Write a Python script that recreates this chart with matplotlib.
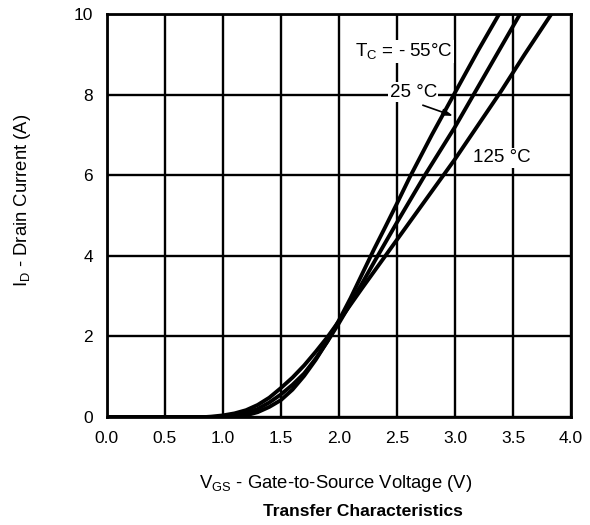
import matplotlib
matplotlib.use("Agg")
import matplotlib.pyplot as plt
import numpy as np

plt.rcParams["font.family"] = ["Liberation Sans", "DejaVu Sans"]
plt.rcParams["mathtext.fontset"] = "custom"
plt.rcParams["mathtext.rm"] = "Liberation Sans"

# Transfer characteristics
vgs_m55 = [0.0, 1.0, 1.1, 1.2, 1.3, 1.4, 1.5, 1.6, 1.7, 1.8, 1.9, 2.0, 2.1, 2.2, 2.3, 2.4, 2.5, 2.61, 2.8, 2.99, 3.2, 3.38]
id_m55 = [0.0, 0.0, 0.01, 0.04, 0.12, 0.25, 0.42, 0.68, 1.02, 1.42, 1.88, 2.4, 2.95, 3.55, 4.15, 4.72, 5.3, 5.95, 7.0, 8.0, 9.1, 10.0]

vgs_25 = [0.0, 0.95, 1.0, 1.1, 1.2, 1.3, 1.4, 1.5, 1.6, 1.7, 1.8, 1.9, 2.0, 2.1, 2.2, 2.32, 2.5, 2.74, 3.0, 3.13, 3.3, 3.56]
id_25 = [0.0, 0.0, 0.01, 0.04, 0.1, 0.2, 0.36, 0.56, 0.8, 1.08, 1.45, 1.87, 2.33, 2.82, 3.32, 3.93, 4.83, 6.0, 7.2, 7.85, 8.7, 10.0]

vgs_125 = [0.0, 0.85, 0.9, 1.0, 1.1, 1.2, 1.3, 1.4, 1.5, 1.6, 1.7, 1.8, 1.9, 2.0, 2.2, 2.4, 2.6, 2.8, 3.0, 3.2, 3.4, 3.6, 3.83]
id_125 = [0.0, 0.0, 0.01, 0.04, 0.09, 0.17, 0.3, 0.48, 0.72, 0.98, 1.28, 1.62, 1.98, 2.38, 3.2, 4.0, 4.8, 5.6, 6.4, 7.25, 8.1, 9.0, 10.0]

fig = plt.figure(figsize=(5.9, 5.25), dpi=100)
ax = fig.add_axes([0.181, 0.2057, 0.787, 0.7676])

for v, i in [(vgs_m55, id_m55), (vgs_25, id_25), (vgs_125, id_125)]:
    ax.plot(v, i, color="black", lw=2.8, zorder=3)

ax.set_xlim(0, 4)
ax.set_ylim(0, 10)
ax.set_xticks(np.arange(0, 4.01, 0.5))
ax.set_yticks(np.arange(0, 10.1, 2))
ax.set_xticklabels([f"{t:.1f}" for t in np.arange(0, 4.01, 0.5)])
ax.grid(True, color="black", lw=1.7)
ax.tick_params(length=0, labelsize=12.5, pad=10)
for s in ax.spines.values():
    s.set_linewidth(2)

box = dict(facecolor="white", edgecolor="none", pad=1)
ax.text(2.14, 9.06, r"T$_\mathregular{C}$ = - 55°C", fontsize=13.5, ha="left", va="center", bbox=box, zorder=4)
ax.text(2.64, 8.06, "25 °C", fontsize=13.5, ha="center", va="center", bbox=box, zorder=4)
ax.annotate("", xy=(3.005, 7.45), xytext=(2.70, 7.76),
            arrowprops=dict(arrowstyle="-|>,head_length=0.6,head_width=0.2", color="black", lw=1.2), zorder=4)
ax.text(3.155, 6.43, "125 °C", fontsize=13.5, ha="left", va="center", bbox=box, zorder=4)

fig.text(336 / 590, 1 - 483 / 525, r"V$_\mathregular{GS}$ - Gate-to-Source Voltage (V)", fontsize=13.3, ha="center", va="center")
fig.text(363 / 590, 1 - 511 / 525, "Transfer Characteristics", fontsize=12.6, fontweight="bold", ha="center", va="center")
fig.text(23 / 590, 1 - 200 / 525, r"I$_\mathregular{D}$ - Drain Current (A)", fontsize=13.3, rotation=90, ha="center", va="center")

fig.savefig("out.png", dpi=100)
